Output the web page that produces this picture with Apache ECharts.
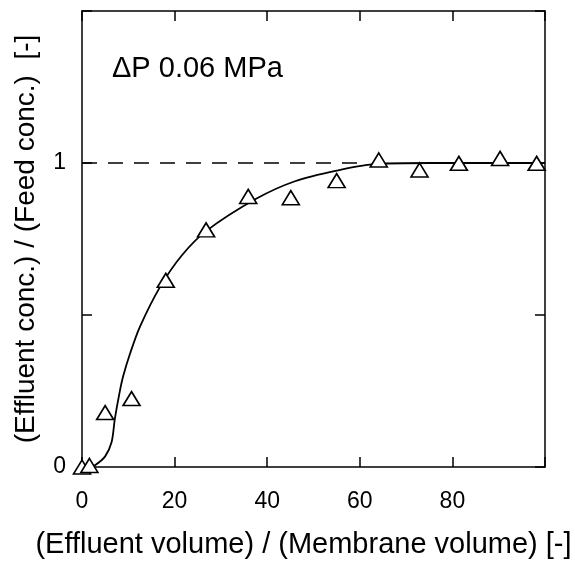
<!DOCTYPE html>
<html>
<head>
<meta charset="utf-8">
<script src="https://cdn.jsdelivr.net/npm/echarts@6/dist/echarts.min.js"></script>
<style>html,body{margin:0;padding:0;background:#fff}#graph{width:575px;height:564px}</style>
</head>
<body>
<div id="graph"></div>
<script>
// measured points (triangles)
var volume = [0, 1.6, 5.0, 10.7, 18.1, 26.8, 35.9, 45.1, 55.0, 64.1, 72.9, 81.4, 90.3, 98.2];
var conc = [0.0, 0.005, 0.179, 0.225, 0.614, 0.78, 0.89, 0.886, 0.942, 1.01, 0.977, 0.999, 1.015, 0.999];

// fitted curve
var fitX = [1.5, 2.8, 5.0, 6.4, 7.1, 8.1, 8.9, 10.4, 12.5, 16.8, 21.5, 26.8, 37.7, 46, 55.0, 63.6, 75, 100];
var fitY = [0.0, 0.006, 0.035, 0.082, 0.159, 0.244, 0.299, 0.374, 0.461, 0.591, 0.695, 0.776, 0.883, 0.94, 0.975, 0.997, 1.0, 1.0];

var refX = [0, 60];
var refY = [1, 1];

var xTickLabels = [0, 20, 40, 60, 80];
var yTickLabels = [0, 1];

var chartDom = document.getElementById('graph');
var myChart = echarts.init(chartDom);
var option;

function pairs(xs, ys) {
  return xs.map(function (x, i) { return [x, ys[i]]; });
}

var axisLine = { onZero: false, lineStyle: { color: '#000', width: 1.5 } };
var axisTick = { inside: true, length: 10, lineStyle: { color: '#000', width: 1.5 } };
var font = 'Liberation Sans, Arial, sans-serif';

option = {
  animation: false,
  backgroundColor: '#fff',
  title: {
    text: '\u0394P 0.06 MPa',
    left: 107,
    top: 49,
    textStyle: { fontFamily: font, fontSize: 29, fontWeight: 'normal', color: '#000' }
  },
  grid: { left: 82, right: 30, top: 11, bottom: 92 },
  xAxis: [
    {
      type: 'value', min: 0, max: 100, interval: 20, position: 'bottom',
      axisLine: axisLine, axisTick: axisTick, splitLine: { show: false },
      axisLabel: {
        margin: 23, color: '#000', fontFamily: font, fontSize: 23,
        formatter: function (v) { return xTickLabels.indexOf(v) >= 0 ? String(v) : ''; }
      },
      name: '(Effluent volume) / (Membrane volume) [-]',
      nameLocation: 'middle', nameGap: 63,
      nameTextStyle: { fontFamily: font, fontSize: 29, color: '#000', padding: [0, 20, 0, 0] }
    },
    {
      type: 'value', min: 0, max: 100, interval: 20, position: 'top',
      axisLine: axisLine, axisTick: axisTick, axisLabel: { show: false }, splitLine: { show: false }
    }
  ],
  yAxis: [
    {
      type: 'value', min: 0, max: 1.5, interval: 0.5, position: 'left',
      axisLine: axisLine, axisTick: axisTick, splitLine: { show: false },
      axisLabel: {
        margin: 16, color: '#000', fontFamily: font, fontSize: 23,
        formatter: function (v) { return yTickLabels.indexOf(v) >= 0 ? String(v) : ''; }
      },
      name: '(Effluent conc.) / (Feed conc.)  [-]',
      nameLocation: 'middle', nameGap: 42,
      nameTextStyle: { fontFamily: font, fontSize: 28, color: '#000' }
    },
    {
      type: 'value', min: 0, max: 1.5, interval: 0.5, position: 'right',
      axisLine: axisLine, axisTick: axisTick, axisLabel: { show: false }, splitLine: { show: false }
    }
  ],
  series: [
    {
      type: 'line',
      data: pairs(refX, refY),
      symbol: 'none',
      lineStyle: { color: '#000', width: 1.5, type: [15, 11] },
      z: 1
    },
    {
      type: 'line',
      data: pairs(fitX, fitY),
      smooth: 0.3,
      symbol: 'none',
      lineStyle: { color: '#000', width: 1.8 },
      z: 2
    },
    {
      type: 'scatter',
      data: pairs(volume, conc),
      symbol: 'triangle',
      symbolSize: [17, 14],
      itemStyle: { color: '#fff', borderColor: '#000', borderWidth: 1.6, opacity: 1 },
      z: 3
    }
  ]
};

option && myChart.setOption(option);
</script>
</body>
</html>
